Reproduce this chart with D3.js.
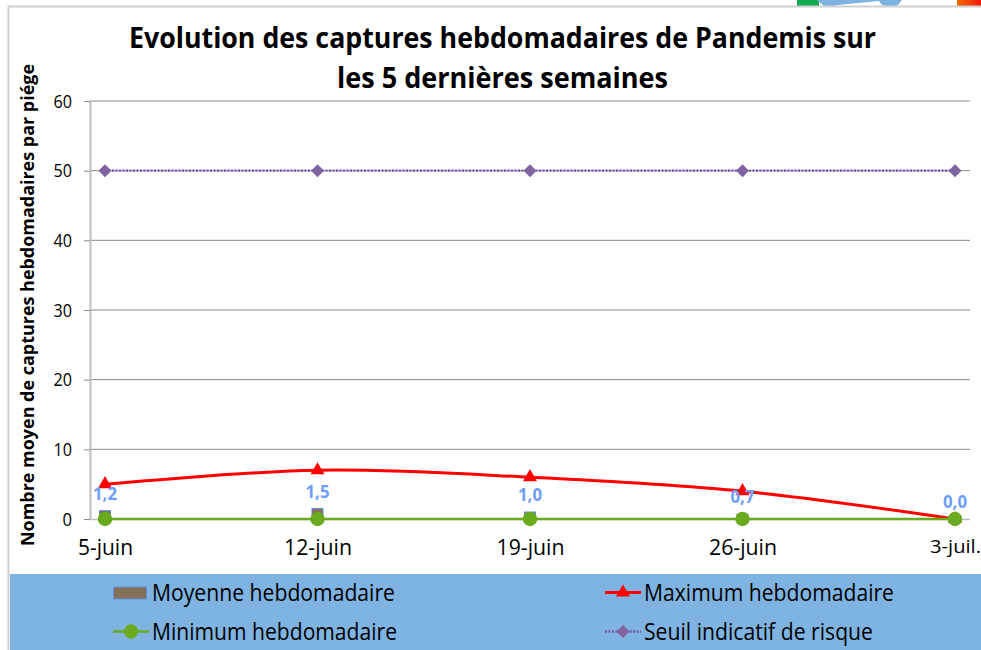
<!DOCTYPE html>
<html>
<head>
<meta charset="utf-8">
<script src="https://cdn.jsdelivr.net/npm/d3@7"></script>
<style>
  html, body { margin: 0; padding: 0; background: #fff; }
  svg { display: block; }
  text { font-family: "Open Sans", "Noto Sans", sans-serif; fill: #000; }
</style>
</head>
<body>
<svg id="drawing_region"></svg>
<script>
const weeks = ['5-juin', '12-juin', '19-juin', '26-juin', '3-juil.']
const moyenne = [1.2, 1.5, 1.0, 0.7, 0.0]
const maximum = [5, 7, 6, 4, 0]
const minimum = [0, 0, 0, 0, 0]
const seuil = [50, 50, 50, 50, 50]
const yticks = [0, 10, 20, 30, 40, 50, 60]
const titleLines = ['Evolution des captures hebdomadaires de Pandemis sur', 'les 5 dernières semaines']

const width = 981, height = 650
const plot = {left: 90, right: 970, top: 101, bottom: 519}
const fmt = v => v.toFixed(1).replace('.', ',')

const svg = d3.select('#drawing_region').attr('width', width).attr('height', height)

// bits of the neighbouring shapes cut off at the top of the screenshot
const defs = svg.append('defs')
const grad = defs.append('linearGradient').attr('id', 'orange')
grad.append('stop').attr('offset', '0').attr('stop-color', '#f56a00')
grad.append('stop').attr('offset', '1').attr('stop-color', '#f01a10')
svg.append('rect').attr('x', 797).attr('y', 0).attr('width', 22).attr('height', 6).attr('fill', '#12a94f')
svg.append('path').attr('d', 'M817,0 L880,0 L879,1 L838,5 L835,6 L824,6 Z').attr('fill', '#7fb4e2')
svg.append('path').attr('d', 'M878,0 L902,0 L898,5 L888,7 L882,5 Z').attr('fill', '#7fb4e2')
svg.append('rect').attr('x', 957).attr('y', 0).attr('width', 24).attr('height', 6).attr('fill', 'url(#orange)')

// chart frame
svg.append('path').attr('d', `M8.5,${height} V6.5 H${width}`)
  .attr('fill', 'none').attr('stroke', '#d0d0d0').attr('stroke-width', 2)

const x = d3.scalePoint().domain(weeks).range([105, 955])
const y = d3.scaleLinear().domain([0, 60]).range([plot.bottom, plot.top])

// grid
svg.append('g').selectAll('line').data(yticks.filter(d => d > 0)).enter()
  .append('line')
  .attr('x1', plot.left).attr('x2', plot.right)
  .attr('y1', d => y(d)).attr('y2', d => y(d))
  .attr('stroke', '#8a8a8a').attr('stroke-width', 1)

// axes
const yaxis = d3.axisLeft(y).tickValues(yticks).tickSize(6).tickPadding(12).tickSizeOuter(0)
const yg = svg.append('g').attr('transform', `translate(${plot.left},0)`).call(yaxis)
yg.select('.domain').attr('stroke', '#bfbfbf').attr('stroke-width', 2)
yg.selectAll('.tick line').attr('stroke', '#8a8a8a')
yg.selectAll('.tick text').attr('font-size', 19).attr('font-family', '"Open Sans"').attr('fill', '#000')
  .attr('textLength', d => d === 0 ? 9.5 : 18.5).attr('lengthAdjust', 'spacingAndGlyphs')

const xaxis = d3.axisBottom(x).tickSize(0).tickPadding(21)
const xg = svg.append('g').attr('transform', `translate(0,${plot.bottom})`).call(xaxis)
xg.select('.domain').attr('d', `M${plot.left},0.5 H${plot.right}`).attr('stroke', '#bfbfbf').attr('stroke-width', 1.5)
// last label sits right on the picture edge, so it gets a slightly smaller size
xg.selectAll('.tick text').attr('font-size', (d, i) => i === 4 ? 19 : 21).attr('font-family', '"Open Sans"').attr('fill', '#000')
  .attr('textLength', (d, i) => [55, 68, 68, 68, 51][i]).attr('lengthAdjust', 'spacingAndGlyphs')

// moyenne bars
const barW = 11
svg.append('g').selectAll('rect').data(moyenne).enter()
  .append('rect')
  .attr('x', (d, i) => x(weeks[i]) - barW / 2)
  .attr('y', d => y(d))
  .attr('width', barW)
  .attr('height', d => y(0) - y(d))
  .attr('fill', '#846f57')
  .attr('stroke', '#5b8fe0').attr('stroke-width', 1)

const symbolPath = (type, size) => d3.symbol().type(type).size(size)()

// one line series with its markers, the diamond is a square turned by 45 degrees
function drawSeries(values, color, strokeWidth, curve, dash, type, size, markerColor, rotate){
  const line = d3.line().x((d, i) => x(weeks[i])).y(d => y(d)).curve(curve)
  const path = svg.append('path').attr('d', line(values))
    .attr('fill', 'none').attr('stroke', color).attr('stroke-width', strokeWidth)
  if(dash) path.attr('stroke-dasharray', dash)
  svg.append('g').selectAll('path').data(values).enter()
    .append('path')
    .attr('d', symbolPath(type, size))
    .attr('transform', (d, i) => `translate(${x(weeks[i])},${y(d)}) rotate(${rotate})`)
    .attr('fill', markerColor)
}

drawSeries(maximum, '#ff0000', 3, d3.curveCatmullRom.alpha(0), null, d3.symbolTriangle, 85, '#ff0000', 0)
drawSeries(minimum, '#6aaa1e', 2.6, d3.curveLinear, null, d3.symbolCircle, 165, '#6aaa1e', 0)
drawSeries(seuil, '#7a52a8', 2.4, d3.curveLinear, '2 1.5', d3.symbolSquare, 85, '#8064a2', 45)

// data labels of the mean
svg.append('g').selectAll('text').data(moyenne).enter()
  .append('text')
  .attr('x', (d, i) => x(weeks[i]))
  .attr('y', d => y(d) - 11)
  .attr('text-anchor', 'middle')
  .attr('font-size', 17).attr('font-weight', 'bold')
  .attr('textLength', 24).attr('lengthAdjust', 'spacingAndGlyphs')
  .style('fill', '#6f9ef8')
  .text(d => fmt(d))

// titles
svg.append('g').selectAll('text').data(titleLines).enter()
  .append('text')
  .attr('x', 502.5)
  .attr('y', (d, i) => 48 + i * 40)
  .attr('text-anchor', 'middle')
  .attr('font-size', 29).attr('font-weight', 'bold')
  .attr('textLength', (d, i) => [747, 331][i]).attr('lengthAdjust', 'spacingAndGlyphs')
  .text(d => d)

svg.append('text')
  .attr('transform', 'translate(34,305) rotate(-90)')
  .attr('text-anchor', 'middle')
  .attr('font-size', 18).attr('font-weight', 'bold')
  .attr('textLength', 482).attr('lengthAdjust', 'spacingAndGlyphs')
  .text('Nombre moyen de captures hebdomadaires par piége')

// legend
svg.append('rect').attr('x', 10).attr('y', 574).attr('width', width - 10).attr('height', height - 574).attr('fill', '#7fb4e2')

const legendItems = [
  {label: 'Moyenne hebdomadaire', kx: 113, tx: 152, ky: 592.5, tw: 243},
  {label: 'Maximum hebdomadaire', kx: 605, tx: 644, ky: 592.5, tw: 250},
  {label: 'Minimum hebdomadaire', kx: 113, tx: 152, ky: 631.5, tw: 245},
  {label: 'Seuil indicatif de risque', kx: 605, tx: 644, ky: 631.5, tw: 229}
]
const legend = svg.append('g')
legend.selectAll('text').data(legendItems).enter()
  .append('text')
  .attr('x', d => d.tx).attr('y', d => d.ky + 8)
  .attr('font-size', 23)
  .attr('textLength', d => d.tw).attr('lengthAdjust', 'spacingAndGlyphs')
  .text(d => d.label)

const k0 = legendItems[0], k1 = legendItems[1], k2 = legendItems[2], k3 = legendItems[3]
legend.append('rect').attr('x', k0.kx + 0.5).attr('y', k0.ky - 5.5).attr('width', 33).attr('height', 12)
  .attr('fill', '#846f57').attr('stroke', '#5b8fe0')

function legendKey(k, color, sw, dash, type, size, markerColor, rotate){
  const l = legend.append('line').attr('x1', k.kx).attr('x2', k.kx + 36)
    .attr('y1', k.ky).attr('y2', k.ky).attr('stroke', color).attr('stroke-width', sw)
  if(dash) l.attr('stroke-dasharray', dash)
  legend.append('path').attr('d', symbolPath(type, size))
    .attr('transform', `translate(${k.kx + 18},${k.ky}) rotate(${rotate})`).attr('fill', markerColor)
}
legendKey(k1, '#ff0000', 3, null, d3.symbolTriangle, 85, '#ff0000', 0)
legendKey(k2, '#6aaa1e', 2.6, null, d3.symbolCircle, 165, '#6aaa1e', 0)
legendKey(k3, '#7a52a8', 2.4, '2 1.5', d3.symbolSquare, 85, '#8064a2', 45)
</script>
</body>
</html>
